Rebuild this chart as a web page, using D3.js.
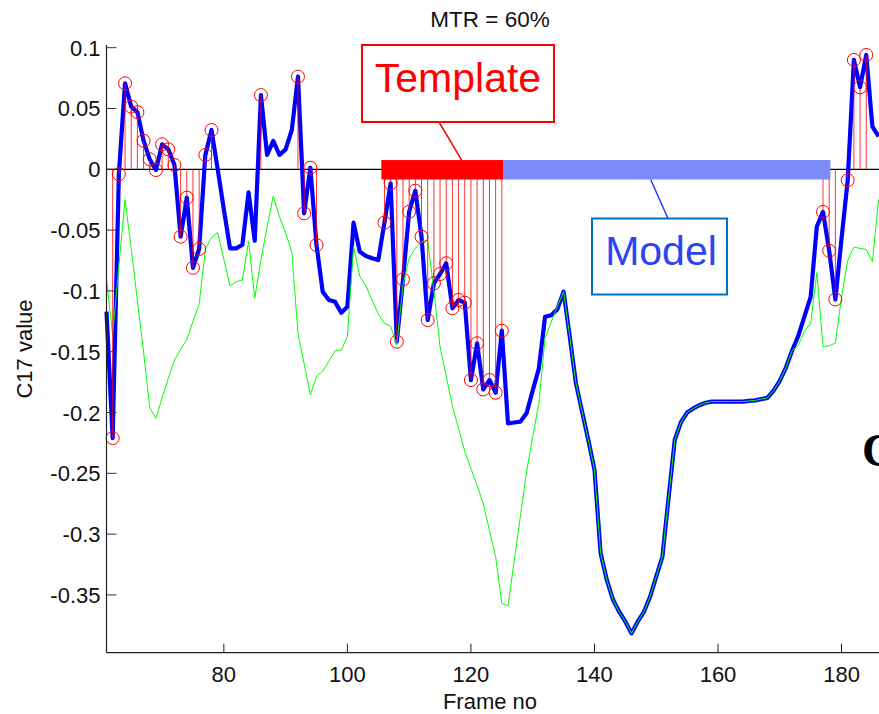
<!DOCTYPE html>
<html>
<head>
<meta charset="utf-8">
<script src="https://cdn.jsdelivr.net/npm/d3@7"></script>
<style>
  html, body { margin: 0; padding: 0; background: #fff; }
  svg { display: block; font-family: "Liberation Sans", Arial, sans-serif; }
</style>
</head>
<body>
<div id="chart"></div>
<script>
// frame numbers run 61..186, one value per frame
const FIRST_FRAME = 61;

// thick blue curve (test signal)
const testValues = [
  -0.117, -0.221, -0.004, 0.0707, 0.0515, 0.047, 0.0235, 0.0082, -0.0006, 0.0205,
  0.0164, 0.0035, -0.0554, -0.0233, -0.081, -0.0655, 0.0118, 0.0323, 0.000, -0.033,
  -0.065, -0.065, -0.062, -0.019, -0.0587, 0.061, 0.0118, 0.0233, 0.0118, 0.0164,
  0.0323, 0.0762, -0.0362, 0.0013, -0.0623, -0.1006, -0.1075, -0.109, -0.118, -0.113,
  -0.0439, -0.0677, -0.0713, -0.0732, -0.0746, -0.0439, -0.0115, -0.1418, -0.0905, -0.0349,
  -0.0176, -0.0554, -0.124, -0.0938, -0.0861, -0.0773, -0.1143, -0.1075, -0.1097, -0.1733,
  -0.1431, -0.181, -0.1733, -0.1837, -0.1327, -0.2089, -0.2082, -0.2076, -0.2007, -0.182,
  -0.1637, -0.1212, -0.120, -0.115, -0.1006, -0.1377, -0.176, -0.1993, -0.2226, -0.247,
  -0.316, -0.3377, -0.354, -0.3638, -0.372, -0.3816, -0.372, -0.364, -0.3515, -0.335,
  -0.3186, -0.27, -0.2226, -0.208, -0.2, -0.1966, -0.194, -0.192, -0.191, -0.191,
  -0.191, -0.191, -0.191, -0.191, -0.1905, -0.19, -0.189, -0.188, -0.182, -0.174,
  -0.163, -0.149, -0.137, -0.121, -0.105, -0.047, -0.035, -0.067, -0.107, -0.057,
  -0.009, 0.0899, 0.0674, 0.094, 0.035, 0.027
];

// thin green curve (model signal)
const modelValues = [
  -0.0905, -0.136, -0.08, -0.025, -0.065, -0.108, -0.15, -0.196, -0.2048, -0.188,
  -0.172, -0.157, -0.148, -0.14, -0.125, -0.111, -0.066, -0.056, -0.052, -0.074,
  -0.096, -0.0924, -0.091, -0.059, -0.106, -0.0746, -0.047, -0.022, -0.039, -0.0525,
  -0.0677, -0.135, -0.16, -0.1856, -0.1705, -0.166, -0.158, -0.149, -0.1486, -0.1376,
  -0.0636, -0.088, -0.096, -0.1075, -0.119, -0.1266, -0.129, -0.1445, -0.095, -0.073,
  -0.065, -0.0595, -0.058, -0.10, -0.146, -0.17, -0.195, -0.213, -0.232, -0.246,
  -0.26, -0.275, -0.297, -0.3186, -0.357, -0.359, -0.322, -0.2857, -0.2487, -0.22,
  -0.1924, -0.139, -0.1256, -0.1127, -0.1006, -0.1377, -0.176, -0.1993, -0.2226, -0.247,
  -0.316, -0.3377, -0.354, -0.3638, -0.372, -0.3816, -0.372, -0.364, -0.3515, -0.335,
  -0.3186, -0.27, -0.2226, -0.208, -0.2, -0.1966, -0.194, -0.192, -0.191, -0.191,
  -0.191, -0.191, -0.191, -0.191, -0.1905, -0.19, -0.189, -0.188, -0.182, -0.174,
  -0.163, -0.149, -0.145, -0.133, -0.127, -0.085, -0.146, -0.145, -0.143, -0.105,
  -0.075, -0.064, -0.065, -0.066, -0.076, -0.025
];

// frames where the match is marked with a stem and a circle
const markedFrames = [
  62, 63, 64, 65, 66, 67, 68, 69, 70, 71, 72, 73, 74, 75, 76, 77, 78, 86,
  92, 93, 94, 95,
  106, 107, 108, 109, 110, 111, 112, 113, 114, 115, 116, 117, 118, 119, 120,
  121, 122, 123, 124, 125,
  177, 178, 179, 181, 182, 183, 184
];

// template / model spans along the zero line, in frames
const templateSpan = [105.5, 125.2];
const modelSpan = [125.2, 178.2];
const spanHalfHeight = [0.0076, -0.0084];

const xTicks = [80, 100, 120, 140, 160, 180];
const yTicks = [0.1, 0.05, 0, -0.05, -0.1, -0.15, -0.2, -0.25, -0.3, -0.35];

const W = 879, H = 714;
const svg = d3.select("#chart").append("svg").attr("width", W).attr("height", H);

const x = d3.scaleLinear().domain([61, 186]).range([106.5, 878.6]);
const y = d3.scaleLinear().domain([-0.3975, 0.1022]).range([652.7, 45]);

const test = testValues.map((v, i) => ({ f: FIRST_FRAME + i, v }));
const model = modelValues.map((v, i) => ({ f: FIRST_FRAME + i, v }));
const marks = markedFrames.map(f => ({ f, v: testValues[f - FIRST_FRAME] }));

const line = d3.line().x(d => x(d.f)).y(d => y(d.v));

// zero line
svg.append("line")
  .attr("x1", x(61)).attr("x2", W)
  .attr("y1", y(0)).attr("y2", y(0))
  .attr("stroke", "#000").attr("stroke-width", 1.2);

svg.append("path").datum(test)
  .attr("d", line)
  .attr("fill", "none")
  .attr("stroke", "#0000ff")
  .attr("stroke-width", 4.2)
  .attr("stroke-linejoin", "round");

svg.append("path").datum(model)
  .attr("d", line)
  .attr("fill", "none")
  .attr("stroke", "#00ff00")
  .attr("stroke-width", 1);

// stems
svg.append("g").selectAll("line").data(marks).join("line")
  .attr("x1", d => x(d.f)).attr("x2", d => x(d.f))
  .attr("y1", y(0)).attr("y2", d => y(d.v))
  .attr("stroke", "#ff0000")
  .attr("stroke-opacity", 0.8)
  .attr("stroke-width", 1);

svg.append("g").selectAll("circle").data(marks).join("circle")
  .attr("cx", d => x(d.f)).attr("cy", d => y(d.v))
  .attr("r", 6.5)
  .attr("fill", "none")
  .attr("stroke", "#ff0000")
  .attr("stroke-width", 1);

// template and model bars
function span(s, color) {
  svg.append("rect")
    .attr("x", x(s[0]))
    .attr("width", x(s[1]) - x(s[0]))
    .attr("y", y(spanHalfHeight[0]))
    .attr("height", y(spanHalfHeight[1]) - y(spanHalfHeight[0]))
    .attr("fill", color);
}
span(templateSpan, "#ff0000");
span(modelSpan, "#7b8cf8");

// callouts
svg.append("line")
  .attr("x1", 439).attr("y1", 122)
  .attr("x2", x(118.5)).attr("y2", y(spanHalfHeight[0]))
  .attr("stroke", "#ff0000").attr("stroke-width", 1.5);
svg.append("rect")
  .attr("x", 362).attr("y", 45).attr("width", 192).attr("height", 77)
  .attr("fill", "#fff").attr("stroke", "#ff0000").attr("stroke-width", 2);
svg.append("text")
  .attr("x", 458).attr("y", 92)
  .attr("text-anchor", "middle")
  .attr("font-size", 41)
  .attr("fill", "#ff0000")
  .text("Template");

svg.append("line")
  .attr("x1", x(149.1)).attr("y1", y(spanHalfHeight[1]))
  .attr("x2", 668).attr("y2", 218.5)
  .attr("stroke", "#2040f0").attr("stroke-width", 1.5);
svg.append("rect")
  .attr("x", 592).attr("y", 218.5).attr("width", 135).attr("height", 76)
  .attr("fill", "#fff").attr("stroke", "#0070c0").attr("stroke-width", 2);
svg.append("text")
  .attr("x", 661).attr("y", 265)
  .attr("text-anchor", "middle")
  .attr("font-size", 41)
  .attr("fill", "#2b45f0")
  .text("Model");

// axes, MATLAB style with inward ticks
const gx = svg.append("g").attr("transform", `translate(0,${y.range()[0]})`);
gx.append("line")
  .attr("x1", x(61)).attr("x2", W).attr("y1", 0).attr("y2", 0)
  .attr("stroke", "#222").attr("stroke-width", 1.2);
gx.selectAll("line.tick").data(xTicks).join("line")
  .attr("class", "tick")
  .attr("x1", d => x(d)).attr("x2", d => x(d))
  .attr("y1", 0).attr("y2", -9)
  .attr("stroke", "#222");
gx.selectAll("text").data(xTicks).join("text")
  .attr("x", d => x(d)).attr("y", 29)
  .attr("text-anchor", "middle")
  .attr("font-size", 22)
  .attr("fill", "#111")
  .text(d => d);

const gy = svg.append("g").attr("transform", `translate(${x(61)},0)`);
gy.append("line")
  .attr("x1", 0).attr("x2", 0).attr("y1", y.range()[1]).attr("y2", y.range()[0])
  .attr("stroke", "#222").attr("stroke-width", 1.2);
gy.selectAll("line.tick").data(yTicks).join("line")
  .attr("class", "tick")
  .attr("x1", 0).attr("x2", 10)
  .attr("y1", d => y(d)).attr("y2", d => y(d))
  .attr("stroke", "#333");
gy.selectAll("text").data(yTicks).join("text")
  .attr("x", -6).attr("y", d => y(d) + 8)
  .attr("text-anchor", "end")
  .attr("font-size", 22)
  .attr("fill", "#111")
  .text(d => d === 0 ? "0" : String(d));

svg.append("text")
  .attr("x", 490).attr("y", 27)
  .attr("text-anchor", "middle")
  .attr("font-size", 22.5)
  .attr("fill", "#111")
  .text("MTR = 60%");

svg.append("text")
  .attr("x", 490).attr("y", 709)
  .attr("text-anchor", "middle")
  .attr("font-size", 22)
  .attr("fill", "#111")
  .text("Frame no");

svg.append("text")
  .attr("transform", "translate(32,349) rotate(-90)")
  .attr("text-anchor", "middle")
  .attr("font-size", 22)
  .attr("fill", "#111")
  .text("C17 value");

// stray letter from the slide behind the figure (cut off at the right edge, as in the source)
svg.append("text")
  .attr("x", 862).attr("y", 466)
  .attr("font-family", "'Liberation Serif', 'Times New Roman', serif")
  .attr("font-weight", "bold")
  .attr("font-size", 46)
  .attr("fill", "#000")
  .text("C");
</script>
</body>
</html>
